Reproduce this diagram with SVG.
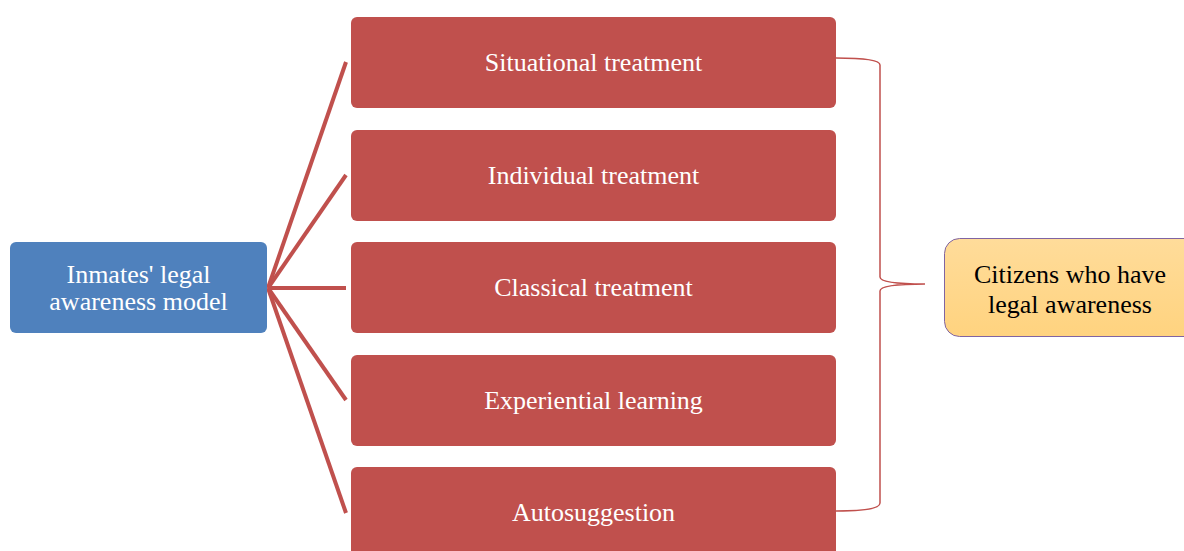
<svg xmlns="http://www.w3.org/2000/svg" width="1184" height="551" viewBox="0 0 1184 551">
<style>
.red{fill:#C0504D}
.wt{font-family:"Liberation Serif","Times New Roman",serif;font-size:26px;fill:#fff;text-anchor:middle}
.bt{font-family:"Liberation Serif","Times New Roman",serif;font-size:26px;fill:#000;text-anchor:middle}
.ln{stroke:#C0504D;stroke-width:4;fill:none}
.br{stroke:#C0504D;stroke-width:1.5;fill:none}
</style>
<defs>
<linearGradient id="og" x1="0" y1="0" x2="0" y2="1">
<stop offset="0" stop-color="#FFDC9A"/>
<stop offset="1" stop-color="#FFD37F"/>
</linearGradient>
</defs>
<rect width="1184" height="551" fill="#fff"/>
<g id="connectors">
<path class="ln" d="M268,288 L346,62"/>
<path class="ln" d="M268,288 L346,175"/>
<path class="ln" d="M268,288 L346,288"/>
<path class="ln" d="M268,288 L346,400"/>
<path class="ln" d="M268,288 L346,513"/>
<path class="br" d="M836,58 Q880,58 880,65 L880,277 Q880,284 925,284 Q880,284 880,291 L880,503 Q880,511 836,511"/>
</g>
<g id="n0">
<rect x="10" y="242" width="257" height="91" rx="6" fill="#4F81BD"/>
<text class="wt" x="138.5" y="283">Inmates' legal</text>
<text class="wt" x="138.5" y="310">awareness model</text>
</g>
<g id="n1">
<rect class="red" x="351" y="17" width="485" height="91" rx="6"/>
<text class="wt" x="593.5" y="71">Situational treatment</text>
</g>
<g id="n2">
<rect class="red" x="351" y="130" width="485" height="91" rx="6"/>
<text class="wt" x="593.5" y="184">Individual treatment</text>
</g>
<g id="n3">
<rect class="red" x="351" y="242" width="485" height="91" rx="6"/>
<text class="wt" x="593.5" y="296">Classical treatment</text>
</g>
<g id="n4">
<rect class="red" x="351" y="355" width="485" height="91" rx="6"/>
<text class="wt" x="593.5" y="409">Experiential learning</text>
</g>
<g id="n5">
<rect class="red" x="351" y="467" width="485" height="100" rx="6"/>
<text class="wt" x="593.5" y="521">Autosuggestion</text>
</g>
<g id="n6">
<rect x="944.5" y="238.5" width="260" height="98" rx="15" fill="url(#og)" stroke="#8064A2" stroke-width="1"/>
<text class="bt" x="1070" y="283">Citizens who have</text>
<text class="bt" x="1070" y="313">legal awareness</text>
</g>
</svg>
